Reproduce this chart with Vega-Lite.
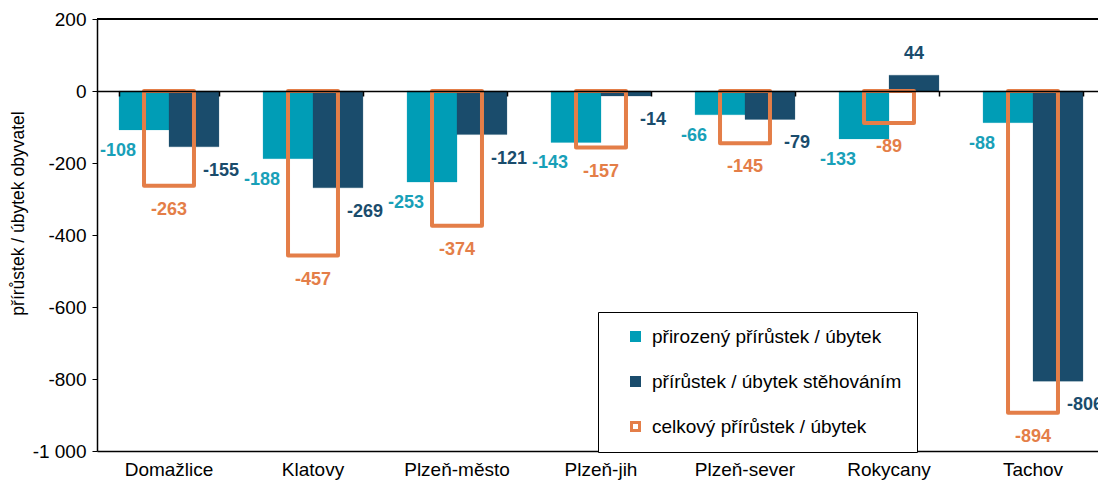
{
  "$schema": "https://vega.github.io/schema/vega-lite/v6.json",
  "width": 1001,
  "height": 432,
  "autosize": {"type": "none"},
  "padding": {"left": 97, "top": 19, "right": 0, "bottom": 31},
  "background": "white",
  "config": {
    "font": "Liberation Sans",
    "view": {"stroke": null},
    "axis": {"labelColor": "black", "titleColor": "black", "labelFont": "Liberation Sans", "titleFont": "Liberation Sans"}
  },
  "data": {
    "values": [
      {"okres": "Domažlice", "ukazatel": "přirozený přírůstek / úbytek", "hodnota": -108},
      {"okres": "Domažlice", "ukazatel": "přírůstek / úbytek stěhováním", "hodnota": -155},
      {"okres": "Domažlice", "ukazatel": "celkový přírůstek / úbytek", "hodnota": -263},
      {"okres": "Klatovy", "ukazatel": "přirozený přírůstek / úbytek", "hodnota": -188},
      {"okres": "Klatovy", "ukazatel": "přírůstek / úbytek stěhováním", "hodnota": -269},
      {"okres": "Klatovy", "ukazatel": "celkový přírůstek / úbytek", "hodnota": -457},
      {"okres": "Plzeň-město", "ukazatel": "přirozený přírůstek / úbytek", "hodnota": -253},
      {"okres": "Plzeň-město", "ukazatel": "přírůstek / úbytek stěhováním", "hodnota": -121},
      {"okres": "Plzeň-město", "ukazatel": "celkový přírůstek / úbytek", "hodnota": -374},
      {"okres": "Plzeň-jih", "ukazatel": "přirozený přírůstek / úbytek", "hodnota": -143},
      {"okres": "Plzeň-jih", "ukazatel": "přírůstek / úbytek stěhováním", "hodnota": -14},
      {"okres": "Plzeň-jih", "ukazatel": "celkový přírůstek / úbytek", "hodnota": -157},
      {"okres": "Plzeň-sever", "ukazatel": "přirozený přírůstek / úbytek", "hodnota": -66},
      {"okres": "Plzeň-sever", "ukazatel": "přírůstek / úbytek stěhováním", "hodnota": -79},
      {"okres": "Plzeň-sever", "ukazatel": "celkový přírůstek / úbytek", "hodnota": -145},
      {"okres": "Rokycany", "ukazatel": "přirozený přírůstek / úbytek", "hodnota": -133},
      {"okres": "Rokycany", "ukazatel": "přírůstek / úbytek stěhováním", "hodnota": 44},
      {"okres": "Rokycany", "ukazatel": "celkový přírůstek / úbytek", "hodnota": -89},
      {"okres": "Tachov", "ukazatel": "přirozený přírůstek / úbytek", "hodnota": -88},
      {"okres": "Tachov", "ukazatel": "přírůstek / úbytek stěhováním", "hodnota": -806},
      {"okres": "Tachov", "ukazatel": "celkový přírůstek / úbytek", "hodnota": -894}
    ]
  },
  "resolve": {"axis": {"x": "independent"}},
  "layer": [
    {
      "mark": {"type": "rule", "color": "black", "strokeWidth": 1.5},
      "encoding": {"y": {"datum": 200, "type": "quantitative"}}
    },
    {
      "transform": [{"filter": "datum.ukazatel !== 'celkový přírůstek / úbytek'"}],
      "mark": {"type": "bar", "strokeWidth": 0.6, "strokeOpacity": 0.4},
      "encoding": {
        "x": {
          "field": "okres", "type": "nominal", "sort": null,
          "scale": {"range": [0, 1008], "paddingInner": 0.306, "paddingOuter": 0.153},
          "axis": {"orient": "bottom", "title": null, "labelAngle": 0, "labelFontSize": 19, "labelPadding": 9, "ticks": false, "domainColor": "black", "domainWidth": 1.5, "grid": false}
        },
        "xOffset": {"field": "ukazatel", "type": "nominal", "sort": null, "scale": {"domain": ["přirozený přírůstek / úbytek", "přírůstek / úbytek stěhováním"], "paddingInner": 0, "paddingOuter": 0}},
        "y": {
          "field": "hodnota", "type": "quantitative",
          "scale": {"domain": [-1000, 200], "nice": false},
          "axis": {
            "title": "přírůstek / úbytek obyvatel", "titleFontSize": 17.5, "titleFontWeight": "normal",
            "titleX": -79, "titleY": 194, "titleBaseline": "middle", "titleAngle": -90,
            "values": [-1000, -800, -600, -400, -200, 0, 200],
            "labelExpr": "(datum.value < 0 ? '-' : '') + replace(format(abs(datum.value), ','), ',', ' ')",
            "labelFontSize": 19, "labelPadding": 6,
            "domainColor": "black", "domainWidth": 1.5, "tickColor": "black", "tickSize": 5,
            "gridColor": "#b3b3b3", "gridWidth": 1.2
          }
        },
        "fill": {
          "field": "ukazatel", "type": "nominal",
          "scale": {"domain": ["přirozený přírůstek / úbytek", "přírůstek / úbytek stěhováním", "celkový přírůstek / úbytek"], "range": ["#009db6", "#1a4c6c", "transparent"]},
          "legend": {
            "title": null, "orient": "none", "legendX": 501, "legendY": 293,
            "fillColor": "white", "strokeColor": "black", "padding": 15, "symbolOffset": 13,
            "symbolType": "square", "symbolSize": 64, "symbolStrokeWidth": 3,
            "labelFontSize": 19, "labelOffset": 7, "rowPadding": 24, "labelLimit": 400
          }
        },
        "stroke": {
          "field": "ukazatel", "type": "nominal",
          "scale": {"domain": ["přirozený přírůstek / úbytek", "přírůstek / úbytek stěhováním", "celkový přírůstek / úbytek"], "range": ["#009db6", "#1a4c6c", "#e47e48"]},
          "legend": {
            "title": null, "orient": "none", "legendX": 501, "legendY": 293,
            "fillColor": "white", "strokeColor": "black", "padding": 15, "symbolOffset": 13,
            "symbolType": "square", "symbolSize": 64, "symbolStrokeWidth": 3,
            "labelFontSize": 19, "labelOffset": 7, "rowPadding": 24, "labelLimit": 400
          }
        }
      }
    },
    {
      "transform": [{"filter": "datum.ukazatel === 'celkový přírůstek / úbytek'"}],
      "mark": {"type": "bar", "strokeWidth": 4, "strokeJoin": "round", "width": {"band": 0.5}},
      "encoding": {
        "x": {
          "field": "okres", "type": "nominal", "sort": null,
          "axis": {"orient": "bottom", "offset": -360, "title": null, "labels": false, "ticks": true, "tickBand": "extent", "tickSize": 5, "tickColor": "black", "tickWidth": 1.5, "domainColor": "black", "domainWidth": 1.5, "grid": false, "zindex": 1}
        },
        "y": {"field": "hodnota", "type": "quantitative"},
        "fill": {"field": "ukazatel", "type": "nominal"},
        "stroke": {"field": "ukazatel", "type": "nominal"}
      }
    },
    {
      "transform": [{"filter": "datum.ukazatel === 'přirozený přírůstek / úbytek'"}],
      "mark": {"type": "text", "dx": -26, "dy": 21, "fontSize": 18, "fontWeight": "bold", "color": "#18a0b8", "baseline": "middle"},
      "encoding": {
        "x": {"field": "okres", "type": "nominal", "sort": null, "axis": null},
        "xOffset": {"field": "ukazatel", "type": "nominal", "sort": null},
        "y": {"field": "hodnota", "type": "quantitative"},
        "text": {"field": "hodnota", "type": "nominal"}
      }
    },
    {
      "transform": [{"filter": "datum.ukazatel === 'přírůstek / úbytek stěhováním' && datum.hodnota < 0"}],
      "mark": {"type": "text", "dx": 27, "dy": 24, "fontSize": 18, "fontWeight": "bold", "color": "#1a4c6c", "baseline": "middle"},
      "encoding": {
        "x": {"field": "okres", "type": "nominal", "sort": null, "axis": null},
        "xOffset": {"field": "ukazatel", "type": "nominal", "sort": null},
        "y": {"field": "hodnota", "type": "quantitative"},
        "text": {"field": "hodnota", "type": "nominal"}
      }
    },
    {
      "transform": [{"filter": "datum.ukazatel === 'přírůstek / úbytek stěhováním' && datum.hodnota >= 0"}],
      "mark": {"type": "text", "dx": 0, "dy": -21, "fontSize": 18, "fontWeight": "bold", "color": "#1a4c6c", "baseline": "middle"},
      "encoding": {
        "x": {"field": "okres", "type": "nominal", "sort": null, "axis": null},
        "xOffset": {"field": "ukazatel", "type": "nominal", "sort": null},
        "y": {"field": "hodnota", "type": "quantitative"},
        "text": {"field": "hodnota", "type": "nominal"}
      }
    },
    {
      "transform": [{"filter": "datum.ukazatel === 'celkový přírůstek / úbytek'"}],
      "mark": {"type": "text", "dy": 24, "fontSize": 18, "fontWeight": "bold", "color": "#e47e48", "baseline": "middle"},
      "encoding": {
        "x": {"field": "okres", "type": "nominal", "sort": null, "axis": null},
        "y": {"field": "hodnota", "type": "quantitative"},
        "text": {"field": "hodnota", "type": "nominal"}
      }
    }
  ]
}
